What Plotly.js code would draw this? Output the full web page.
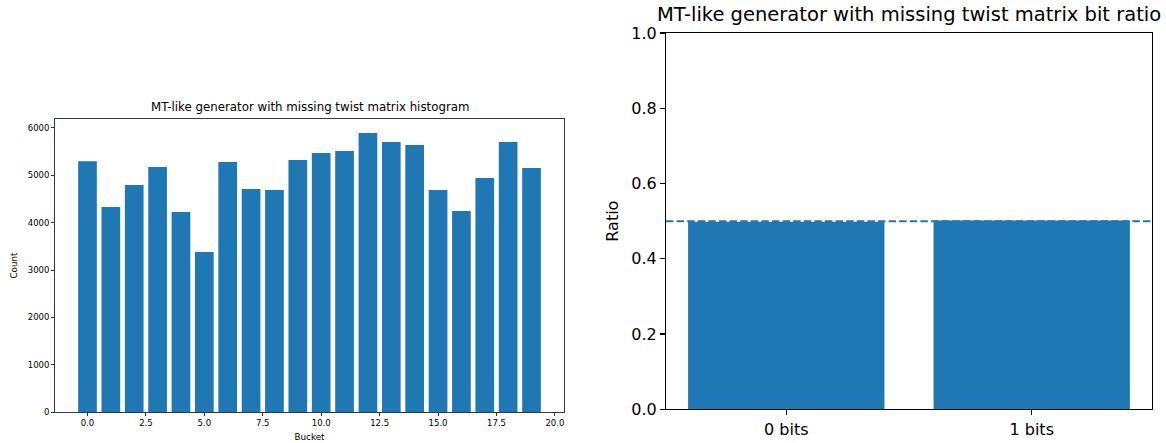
<!DOCTYPE html>
<html>
<head>
<meta charset="utf-8">
<script src="https://cdn.plot.ly/plotly-3.0.1.min.js"></script>
<style>html,body{margin:0;padding:0;background:#fff;}#chart{width:1166px;height:443px;}</style>
</head>
<body>
<div id="chart"></div>
<script>
// Histogram data (left panel)
const buckets = [0,1,2,3,4,5,6,7,8,9,10,11,12,13,14,15,16,17,18,19];
const counts = [5295,4328,4792,5171,4223,3380,5277,4707,4686,5319,5466,5508,5888,5698,5635,4686,4244,4939,5698,5150];
const histTickVals = [0,2.5,5,7.5,10,12.5,15,17.5,20];
const histTickText = ["0.0","2.5","5.0","7.5","10.0","12.5","15.0","17.5","20.0"];
const histYTicks = [0,1000,2000,3000,4000,5000,6000];

// Bit ratio data (right panel)
const bitLabels = ["0 bits","1 bits"];
const bitRatios = [0.4985,0.5015];
const expectedRatio = 0.5;
const ratioTicks = [0,0.2,0.4,0.6,0.8,1.0];
const ratioTickText = ["0.0","0.2","0.4","0.6","0.8","1.0"];

const blue = "#1f77b4";
const font = "DejaVu Sans, sans-serif";
const W = 1166, H = 443;

const traces = [
  {type:"bar", x:buckets, y:counts, width:0.8, marker:{color:blue, line:{width:0}}, xaxis:"x", yaxis:"y", hoverinfo:"none"},
  {type:"bar", x:bitLabels, y:bitRatios, width:0.8, marker:{color:blue, line:{width:0}}, xaxis:"x2", yaxis:"y2", hoverinfo:"none"}
];

const layout = {
  width:W, height:H,
  margin:{l:0,r:0,t:0,b:0},
  paper_bgcolor:"#fff", plot_bgcolor:"#fff",
  showlegend:false,
  font:{family:font, color:"#000"},
  xaxis:{
    anchor:"y",
    domain:[55/W, 564/W], range:[-1.39,20.39],
    tickvals:histTickVals, ticktext:histTickText,
    tickfont:{size:8.5}, ticks:"outside", ticklen:3, tickwidth:0.8, tickcolor:"#000",
    showline:true, mirror:true, linecolor:"#222", linewidth:0.9,
    showgrid:false, zeroline:false,
    title:{text:"Bucket", font:{size:8.8}, standoff:6}
  },
  yaxis:{
    anchor:"x",
    domain:[1-412.3/H, 1-118.7/H], range:[0,6190],
    tickvals:histYTicks, ticktext:histYTicks.map(String),
    tickfont:{size:8.5}, ticks:"outside", ticklen:3, tickwidth:0.8, tickcolor:"#000",
    showline:true, mirror:true, linecolor:"#222", linewidth:0.9,
    showgrid:false, zeroline:false,
    title:{text:"Count", font:{size:8.8}, standoff:8}
  },
  xaxis2:{
    anchor:"y2",
    domain:[666/W, 1152/W], range:[-0.49,1.49], type:"category",
    tickfont:{size:16}, ticks:"outside", ticklen:5, tickwidth:1.1, tickcolor:"#000",
    showline:true, mirror:true, linecolor:"#000", linewidth:1.1,
    showgrid:false, zeroline:false
  },
  yaxis2:{
    anchor:"x2",
    domain:[1-409.3/H, 1-33/H], range:[0,1],
    tickvals:ratioTicks, ticktext:ratioTickText,
    tickfont:{size:16}, ticks:"outside", ticklen:5, tickwidth:1.1, tickcolor:"#000",
    showline:true, mirror:true, linecolor:"#000", linewidth:1.1,
    showgrid:false, zeroline:false,
    title:{text:"Ratio", font:{size:16}, standoff:8}
  },
  shapes:[
    {type:"line", xref:"x2 domain", yref:"y2", x0:0, x1:1, y0:expectedRatio, y1:expectedRatio,
     line:{color:blue, width:2, dash:"7.4px,3.2px"}}
  ],
  annotations:[
    {text:"MT-like generator with missing twist matrix histogram", xref:"paper", yref:"paper",
     x:(55+564)/2/W, y:1-116/H, xanchor:"center", yanchor:"bottom", showarrow:false,
     font:{size:11.8, family:font, color:"#000"}},
    {text:"MT-like generator with missing twist matrix bit ratio", xref:"paper", yref:"paper",
     x:(666+1152)/2/W, y:1-28/H, xanchor:"center", yanchor:"bottom", showarrow:false,
     font:{size:19.5, family:font, color:"#000"}}
  ]
};

Plotly.newPlot("chart", traces, layout, {staticPlot:true, displayModeBar:false});
</script>
</body>
</html>
